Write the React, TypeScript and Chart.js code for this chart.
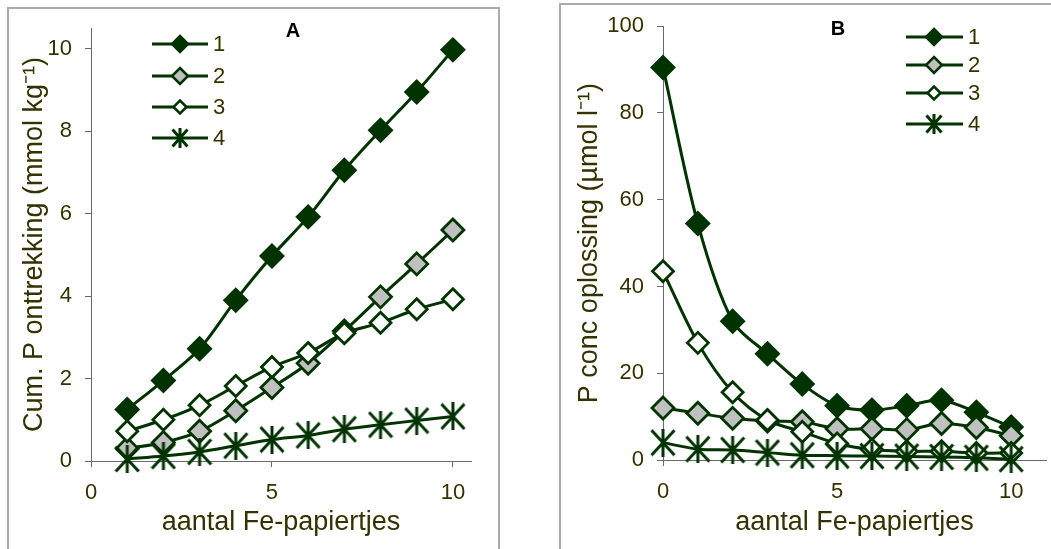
import React, { useEffect, useRef } from 'react';
import { Chart, registerables } from 'chart.js';
Chart.register(...registerables);

// ---------- data ----------
const seriesLabels = ['1', '2', '3', '4'];

const xA = [1, 2, 3, 4, 5, 6, 7, 8, 9, 10];
const a1 = [1.25, 1.95, 2.72, 3.9, 4.97, 5.92, 7.05, 8.02, 8.95, 9.97];
const a2 = [0.3, 0.45, 0.72, 1.22, 1.78, 2.37, 3.15, 3.98, 4.78, 5.6];
const a3 = [0.72, 1.0, 1.35, 1.82, 2.28, 2.62, 3.1, 3.35, 3.68, 3.92];
const a4 = [0.05, 0.12, 0.22, 0.37, 0.52, 0.62, 0.77, 0.88, 0.98, 1.08];

const xB = [0, 1, 2, 3, 4, 5, 6, 7, 8, 9, 10];
const b1 = [90.5, 54.5, 32, 24.5, 17.5, 12.5, 11.5, 12.5, 13.8, 11, 7.6];
const b2 = [12, 10.8, 9.6, 9, 8.8, 7.2, 7.2, 7, 8.4, 7.5, 5.6];
const b3 = [43.5, 27, 15.6, 9.2, 6.5, 3.8, 2.4, 2.0, 2.0, 1.6, 1.6];
const b4 = [4, 2.5, 2.3, 1.7, 1.1, 1.0, 0.9, 0.8, 0.7, 0.5, 0.2];

const titleA = 'A';
const titleB = 'B';
const xTitle = 'aantal Fe-papiertjes';
const yTitleA = 'Cum. P onttrekking (mmol kg\u207B\u00B9)';
const yTitleB = 'P conc oplossing (\u00B5mol l\u207B\u00B9)';

// ---------- styles ----------
const FONT = '"Liberation Sans", Arial, sans-serif';
const GREEN = '#003300';
const TEXT = '#333300';
const AXIS = '#6a6a6a';

function makeStar(w: number, h: number, lw: number) {
  const c = document.createElement('canvas');
  c.width = w;
  c.height = h;
  const ctx = c.getContext('2d')!;
  ctx.strokeStyle = GREEN;
  ctx.lineWidth = lw;
  ctx.beginPath();
  ctx.moveTo(w / 2, 0);
  ctx.lineTo(w / 2, h);
  ctx.moveTo(1.5, 1.5);
  ctx.lineTo(w - 1.5, h - 1.5);
  ctx.moveTo(w - 1.5, 1.5);
  ctx.lineTo(1.5, h - 1.5);
  ctx.stroke();
  return c;
}

const starBig = makeStar(26, 28, 3);
const starSmall = makeStar(18, 20, 3);

const markerStyles = [
  { style: 'rectRot', fill: GREEN, r: 11, lr: 8 },
  { style: 'rectRot', fill: '#c0c0c0', r: 11, lr: 8 },
  { style: 'rectRot', fill: '#ffffff', r: 10.5, lr: 6.5 },
  { style: 'star', fill: GREEN, r: 12, lr: 9 },
];

function buildDatasets(xs: number[], ys: number[][]) {
  return ys.map((vals, i) => {
    const m = markerStyles[i];
    return {
      label: seriesLabels[i],
      data: xs.map((x, j) => ({ x, y: vals[j] })),
      borderColor: GREEN,
      borderWidth: 3,
      tension: 0.3,
      fill: false,
      clip: false as any,
      order: 3 - i,
      pointStyle: i === 3 ? starBig : m.style,
      pointRadius: m.r,
      pointBackgroundColor: m.fill,
      pointBorderColor: GREEN,
      pointBorderWidth: 2.8,
    };
  });
}

function diamond(ctx: CanvasRenderingContext2D, x: number, y: number, r: number) {
  ctx.beginPath();
  ctx.moveTo(x, y - r);
  ctx.lineTo(x + r, y);
  ctx.lineTo(x, y + r);
  ctx.lineTo(x - r, y);
  ctx.closePath();
}

const legendPlugin = {
  id: 'customLegend',
  afterDatasetsDraw(chart: any, _args: any, opts: any) {
    const ctx = chart.ctx as CanvasRenderingContext2D;
    ctx.save();
    // panel letter
    ctx.font = `bold 20px ${FONT}`;
    ctx.fillStyle = '#000000';
    ctx.textAlign = 'center';
    ctx.textBaseline = 'middle';
    ctx.fillText(opts.title, opts.titleX, opts.titleY);
    // legend rows
    opts.rows.forEach((y: number, i: number) => {
      const m = markerStyles[i];
      ctx.strokeStyle = GREEN;
      ctx.lineWidth = 3;
      ctx.beginPath();
      ctx.moveTo(opts.x0, y);
      ctx.lineTo(opts.x1, y);
      ctx.stroke();
      if (i === 3) {
        ctx.drawImage(starSmall, opts.xm - starSmall.width / 2, y - starSmall.height / 2);
      } else {
        diamond(ctx, opts.xm, y, m.lr);
        ctx.fillStyle = m.fill;
        ctx.fill();
        ctx.lineWidth = 2.5;
        ctx.stroke();
      }
      ctx.fillStyle = TEXT;
      ctx.font = `22px ${FONT}`;
      ctx.textAlign = 'left';
      ctx.textBaseline = 'middle';
      ctx.fillText(seriesLabels[i], opts.xt, y + 1);
    });
    ctx.restore();
  },
};

interface PanelCfg {
  xs: number[];
  ys: number[][];
  xMax: number;
  yMax: number;
  yStep: number;
  yTitle: string;
  yWidth: number;
  xHeight: number;
  padTop: number;
  padRight: number;
  yTitlePad: number;
  xTitlePad: number;
  legend: any;
}

function makeConfig(c: PanelCfg): any {
  const tickFont = { family: FONT, size: 22 };
  const titleFont = { family: FONT, size: 27 };
  return {
    type: 'line',
    data: { datasets: buildDatasets(c.xs, c.ys) },
    plugins: [legendPlugin],
    options: {
      animation: false,
      responsive: false,
      maintainAspectRatio: false,
      layout: {
        autoPadding: false,
        padding: { left: 0, right: c.padRight, top: c.padTop, bottom: 0 },
      },
      plugins: {
        legend: { display: false },
        title: { display: false },
        tooltip: { enabled: false },
        customLegend: c.legend,
      },
      scales: {
        x: {
          type: 'linear',
          min: 0,
          max: c.xMax,
          ticks: { stepSize: 5, includeBounds: false, padding: 13, font: tickFont, color: TEXT, maxRotation: 0 },
          grid: { drawOnChartArea: false, tickLength: 6, color: AXIS, lineWidth: 1 },
          border: { color: AXIS, width: 1 },
          title: { display: true, text: xTitle, font: titleFont, color: TEXT, padding: { top: 0, bottom: c.xTitlePad } },
          afterFit: (s: any) => { s.height = c.xHeight; },
        },
        y: {
          type: 'linear',
          min: 0,
          max: c.yMax,
          ticks: { stepSize: c.yStep, includeBounds: false, padding: 13, font: tickFont, color: TEXT },
          grid: { drawOnChartArea: false, tickLength: 6, color: AXIS, lineWidth: 1 },
          border: { color: AXIS, width: 1 },
          title: { display: true, text: c.yTitle, font: titleFont, color: TEXT, padding: { top: c.yTitlePad, bottom: 0 } },
          afterFit: (s: any) => { s.width = c.yWidth; },
        },
      },
    },
  };
}

function Panel(props: { cfg: PanelCfg; left: number; width: number }) {
  const ref = useRef<HTMLCanvasElement | null>(null);
  useEffect(() => {
    if (!ref.current) return;
    const chart = new Chart(ref.current, makeConfig(props.cfg));
    return () => chart.destroy();
  }, []);
  return (
    <canvas
      ref={ref}
      width={props.width}
      height={549}
      style={{ position: 'absolute', left: props.left, top: 0, width: props.width, height: 549 }}
    />
  );
}

const cfgA: PanelCfg = {
  xs: xA,
  ys: [a1, a2, a3, a4],
  xMax: 10.5,
  yMax: 10.5,
  yStep: 2,
  yTitle: yTitleA,
  yWidth: 91,
  xHeight: 88,
  padTop: 28,
  padRight: 59,
  yTitlePad: 18,
  xTitlePad: 10,
  legend: { title: titleA, titleX: 293, titleY: 31, x0: 152, x1: 208, xm: 180, xt: 213, rows: [44, 76, 107, 138] },
};

const cfgB: PanelCfg = {
  xs: xB,
  ys: [b1, b2, b3, b4],
  xMax: 11,
  yMax: 100,
  yStep: 20,
  yTitle: yTitleB,
  yWidth: 123,
  xHeight: 89,
  padTop: 24,
  padRight: 5,
  yTitlePad: 33,
  xTitlePad: 10,
  legend: { title: titleB, titleX: 298, titleY: 29, x0: 366, x1: 423, xm: 394, xt: 428, rows: [37, 65, 93, 124] },
};

export default function App() {
  return (
    <div style={{ position: 'fixed', left: 0, top: 0, width: 1051, height: 549, overflow: 'hidden', background: '#ffffff' }}>
      <div style={{ position: 'absolute', left: 7, top: 7, width: 493, height: 560, border: '2px solid #ababab', boxSizing: 'border-box' }} />
      <div style={{ position: 'absolute', left: 559, top: 3, width: 520, height: 560, border: '2px solid #ababab', boxSizing: 'border-box' }} />
      <Panel cfg={cfgA} left={0} width={530} />
      <Panel cfg={cfgB} left={540} width={511} />
    </div>
  );
}
